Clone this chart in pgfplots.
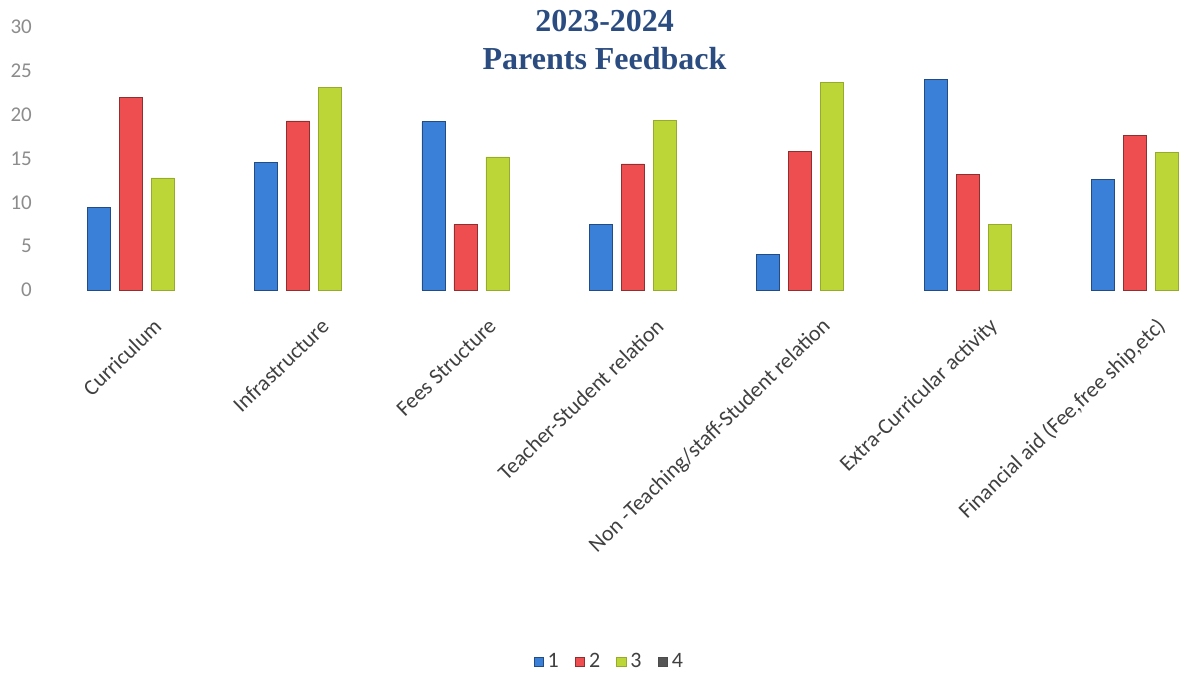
\documentclass[border=0pt]{standalone}
\usepackage{fontspec}
\setmainfont{Carlito}
\newfontfamily\titlefont{Liberation Serif}
\usepackage{pgfplots}
\pgfplotsset{compat=1.18}

\definecolor{sblue}{HTML}{3B80D8}
\definecolor{sred}{HTML}{EE4E50}
\definecolor{sgreen}{HTML}{BCD637}
\definecolor{sgrey}{HTML}{555555}
\definecolor{titleblue}{HTML}{2A4C80}

\begin{document}
\begin{tikzpicture}
\begin{axis}[
    name=ax,
    scale only axis,
    width=572.5pt, height=131.5pt,
    ybar=4.5pt,
    bar width=11.5pt,
    xmin=-0.5, xmax=6.34,
    ymin=0, ymax=30,
    xtick={0,...,6},
    xticklabels={Curriculum, Infrastructure, Fees Structure, Teacher-Student relation,
        Non -Teaching/staff-Student relation, Extra-Curricular activity,
        {Financial aid (Fee,free ship,etc)}},
    ytick={0,5,...,30},
    axis line style={draw=none},
    major tick length=0pt,
    /pgf/number format/assume math mode=true,
    yticklabel style={text=black!45, xshift=-4pt, font=\fontsize{10.5}{12}\selectfont},
    xticklabel style={text=black!75, font=\fontsize{11}{13}\selectfont,
        xshift=16pt, yshift=-14pt, rotate=44, anchor=east},
    legend columns=-1,
    legend style={draw=none, at={(0.492,-1.414)}, anchor=center,
        font=\fontsize{11}{13}\selectfont, text=black!75,
        /tikz/every even column/.append style={column sep=6pt}},
    legend image code/.code={\draw[#1] (0pt,-2.4pt) rectangle (4.8pt,2.4pt);},
    clip=false,
]
\addplot[fill=sblue, draw=sblue!60!black, line width=0.3pt] coordinates
    {(0,9.4) (1,14.6) (2,19.2) (3,7.5) (4,4.1) (5,24.0) (6,12.6)};
\addplot[fill=sred, draw=sred!60!black, line width=0.3pt] coordinates
    {(0,22.0) (1,19.3) (2,7.5) (3,14.4) (4,15.8) (5,13.2) (6,17.6)};
\addplot[fill=sgreen, draw=sgreen!80!black, line width=0.3pt] coordinates
    {(0,12.8) (1,23.1) (2,15.2) (3,19.4) (4,23.7) (5,7.5) (6,15.7)};
\legend{1,2,3}
\addlegendimage{fill=sgrey, draw=black!70}
\addlegendentry{4}

\node[align=center, text=titleblue, font=\titlefont\bfseries\fontsize{16}{19}\selectfont]
    at (rel axis cs:0.487,0.95) {2023-2024\\Parents Feedback};

\coordinate (bl) at (rel axis cs:-0.041,-1.506);
\coordinate (tr) at (rel axis cs:1,1.103);
\end{axis}
\pgfresetboundingbox
\useasboundingbox (bl) rectangle (tr);
\end{tikzpicture}
\end{document}
